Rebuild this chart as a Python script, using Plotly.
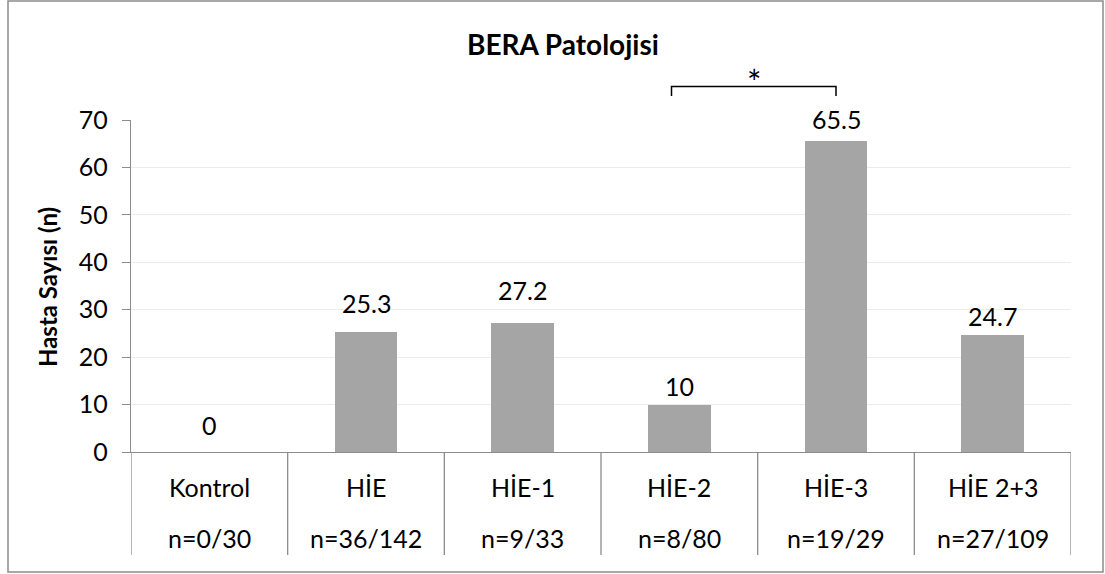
import plotly.graph_objects as go

categories = ["Kontrol", "HİE", "HİE-1", "HİE-2", "HİE-3", "HİE 2+3"]
counts = ["n=0/30", "n=36/142", "n=9/33", "n=8/80", "n=19/29", "n=27/109"]
values = [0, 25.3, 27.2, 10, 65.5, 24.7]
value_labels = ["0", "25.3", "27.2", "10", "65.5", "24.7"]
sig_pair = (3, 4)
sig_label = "*"
title_text = "BERA Patolojisi"
ytitle = "Hasta Sayısı (n)"
yticks = [0, 10, 20, 30, 40, 50, 60, 70]

# style / layout
W, H = 1105, 574
ML, MR, MT, MB = 131, 34, 120, 122
PW, PH = W - ML - MR, H - MT - MB
FONT = "Lato"
FS = 25
GRAY = "#8c8c8c"
label_shift = [27, 29, 33, 19, 22, 19]

def py(px):  # pixel y -> paper y
    return (H - MB - px) / PH

def px_(x):  # pixel x -> paper x
    return (x - ML) / PW

xs = list(range(len(categories)))

fig = go.Figure()
fig.add_trace(go.Bar(x=xs, y=values, width=0.4, marker=dict(color="#a5a5a5", line=dict(width=0)),
                     hoverinfo="skip"))

annotations = []
for i, (v, t, s) in enumerate(zip(values, value_labels, label_shift)):
    annotations.append(dict(x=i, y=v, xref="x", yref="y", text=t, showarrow=False,
                            yanchor="middle", yshift=s, font=dict(family=FONT, size=FS, color="#000")))
for i, (c, n) in enumerate(zip(categories, counts)):
    annotations.append(dict(x=i, y=py(487), xref="x", yref="paper", text=c, showarrow=False,
                            yanchor="middle", font=dict(family=FONT, size=FS, color="#000")))
    annotations.append(dict(x=i, y=py(538), xref="x", yref="paper", text=n, showarrow=False,
                            yanchor="middle", font=dict(family=FONT, size=FS, color="#000")))

a, b = sig_pair
xa, xb = a - 0.05, b
annotations.append(dict(x=(xa + xb) / 2, y=py(82), xref="x", yref="paper", text=sig_label,
                        showarrow=False, yanchor="middle",
                        font=dict(family=FONT, size=34, color="#000")))
annotations.append(dict(x=-84 / PW, y=py(287), xref="paper", yref="paper", text="<b>" + ytitle + "</b>",
                        showarrow=False, textangle=-90, xanchor="center", yanchor="middle",
                        font=dict(family=FONT, size=24, color="#000")))
annotations.append(dict(x=px_(563), y=py(44), xref="paper", yref="paper", text="<b>" + title_text + "</b>",
                        showarrow=False, xanchor="center", yanchor="middle",
                        font=dict(family=FONT, size=28, color="#000")))

shapes = [
    dict(type="path", xref="x", yref="paper",
         path=f"M {xa},{py(96)} L {xa},{py(86.5)} L {xb},{py(86.5)} L {xb},{py(96)}",
         line=dict(color="#000", width=1.5)),
    dict(type="rect", xref="paper", yref="paper", x0=px_(8), x1=px_(1103), y0=py(572), y1=py(1),
         line=dict(color=GRAY, width=1.5)),
]
for k in range(len(categories) + 1):
    shapes.append(dict(type="line", xref="x", yref="paper", x0=k - 0.5, x1=k - 0.5, y0=0, y1=py(555),
                       line=dict(color=GRAY, width=1.3)))

fig.update_layout(
    width=W, height=H, margin=dict(l=ML, r=MR, t=MT, b=MB),
    paper_bgcolor="white", plot_bgcolor="white", showlegend=False,
    annotations=annotations, shapes=shapes, bargap=0,
    font=dict(family=FONT, size=FS, color="#000"),
)
fig.update_xaxes(range=[-0.5, len(categories) - 0.5], showticklabels=False, showgrid=False,
                 zeroline=False, showline=True, linecolor=GRAY, linewidth=1.3, ticks="")
fig.update_yaxes(range=[0, 70], tickvals=yticks, showgrid=True, gridcolor="#ebebeb", gridwidth=1.3,
                 zeroline=False, showline=True, linecolor=GRAY, linewidth=1.3, ticks="outside",
                 ticklen=8, tickcolor=GRAY, tickwidth=1.3, ticklabelstandoff=9,
                 tickfont=dict(family=FONT, size=FS, color="#000"))

fig.write_html("out.html")
